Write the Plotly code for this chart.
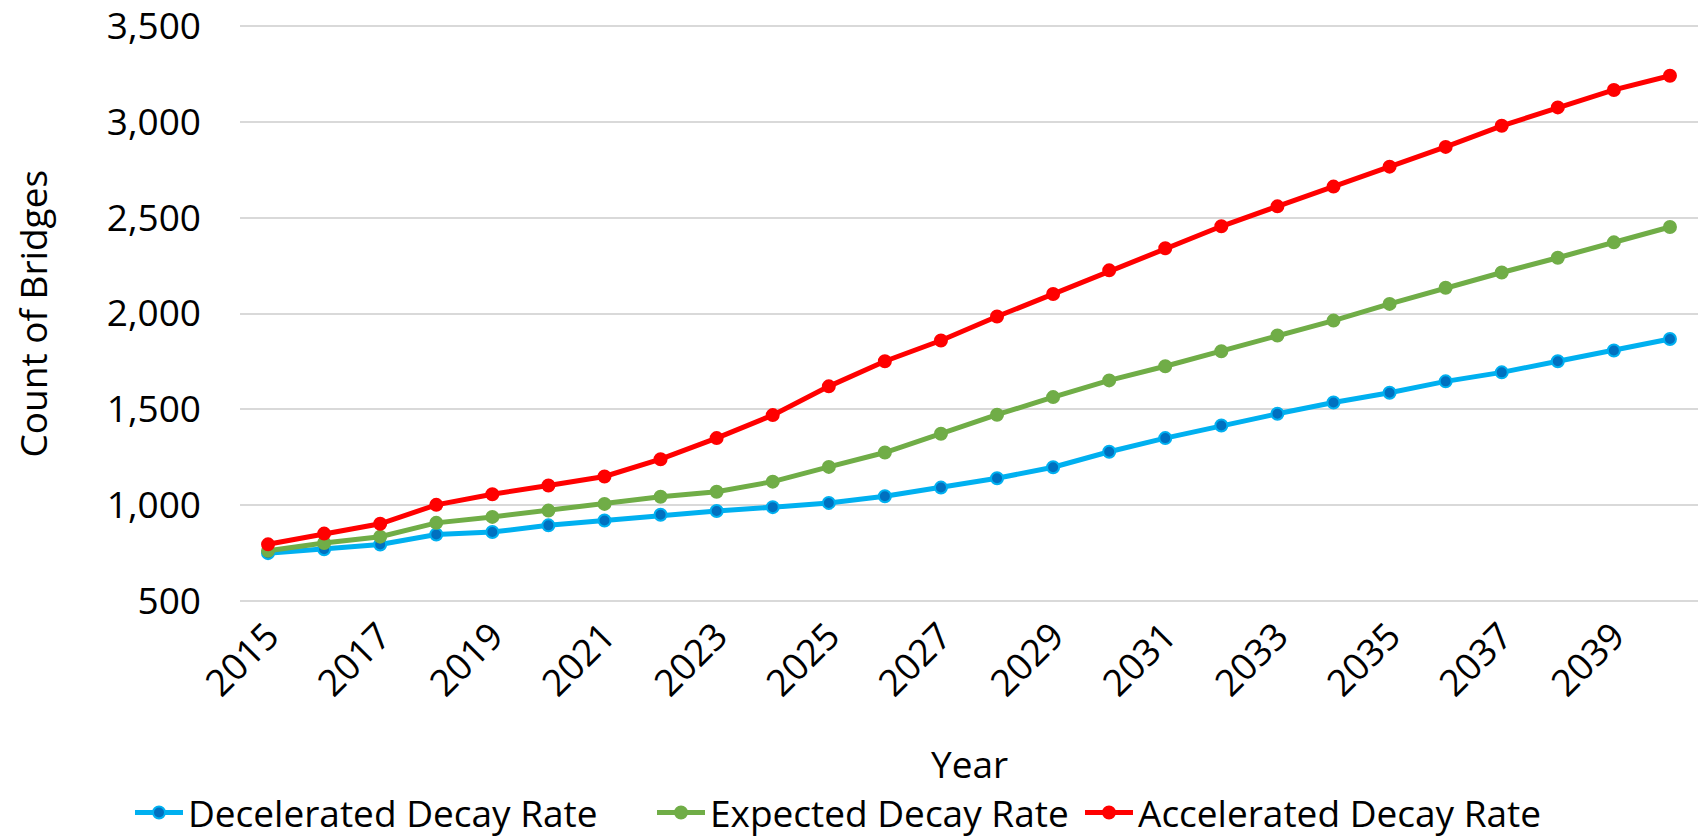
import plotly.graph_objects as go

years = list(range(2015, 2041))
decelerated = [750, 770, 795, 847, 860, 895, 920, 950, 970, 990, 1012, 1047, 1092,
               1141, 1198, 1279, 1350, 1416, 1477, 1536, 1587, 1646, 1693, 1751, 1807, 1867]
expected = [762, 803, 836, 908, 939, 972, 1007, 1044, 1070, 1123, 1200, 1275, 1373,
            1472, 1564, 1651, 1725, 1803, 1885, 1963, 2050, 2134, 2214, 2291, 2371, 2451]
accelerated = [796, 852, 903, 1002, 1057, 1103, 1150, 1240, 1350, 1470, 1620, 1751, 1859,
               1984, 2102, 2225, 2340, 2455, 2559, 2662, 2766, 2869, 2979, 3075, 3166, 3240]
y_ticks = [500, 1000, 1500, 2000, 2500, 3000, 3500]

FONT = "Open Sans"
TXT = 37

# plot area in pixels: x 240..1698
PLOT_L, PLOT_W = 240, 1458


def px_to_paper(px):
    return (px - PLOT_L) / PLOT_W


series = [
    ("Decelerated Decay Rate", decelerated, "#00B0F0", "#0070C0", "legend", 130),
    ("Expected Decay Rate", expected, "#70AD47", "#70AD47", "legend2", 652),
    ("Accelerated Decay Rate", accelerated, "#FF0000", "#FF0000", "legend3", 1080),
]

fig = go.Figure()
for name, vals, line_c, fill_c, leg, _ in series:
    fig.add_trace(go.Scatter(
        x=years, y=vals, name=name, mode="lines+markers", legend=leg,
        line=dict(color=line_c, width=5),
        marker=dict(size=12, color=fill_c, line=dict(color=line_c, width=2)),
    ))

legend_style = dict(orientation="h", xanchor="left", y=-0.3627, yanchor="middle",
                    font=dict(size=TXT), itemwidth=48, bgcolor="rgba(0,0,0,0)")
legends = {}
for _, _, _, _, leg, left_px in series:
    legends[leg] = dict(legend_style, x=px_to_paper(left_px))

fig.update_layout(
    width=1702, height=839,
    margin=dict(l=240, r=4, t=24, b=236, autoexpand=False),
    paper_bgcolor="white", plot_bgcolor="white",
    font=dict(family=FONT, size=TXT, color="black"),
    showlegend=True,
    xaxis=dict(range=[2014.5, 2040.5], tickmode="array",
               tickvals=years[::2], ticktext=[str(y) for y in years[::2]],
               tickangle=-45, showgrid=False, zeroline=False, showline=False,
               ticks="", ticklabelstandoff=3, tickfont=dict(size=TXT)),
    # a little headroom so the 500 and 3,500 grid lines are kept
    yaxis=dict(range=[490, 3510], tickmode="array", tickvals=y_ticks,
               ticktext=[f"{v:,}" for v in y_ticks],
               showgrid=True, gridcolor="#D9D9D9", gridwidth=1.5,
               zeroline=False, showline=False, ticks="", ticklabelstandoff=38,
               ticklabeloverflow="allow", tickfont=dict(size=TXT)),
    annotations=[
        dict(text="Count of Bridges", xref="paper", yref="paper", x=0, y=0.5,
             xshift=-208, textangle=-90, showarrow=False, font=dict(size=TXT),
             xanchor="center", yanchor="middle"),
        dict(text="Year", xref="paper", yref="paper", x=0.5, y=0, yshift=-160,
             showarrow=False, font=dict(size=TXT), xanchor="center", yanchor="middle"),
    ],
    **legends,
)

fig.write_html("out.html")
